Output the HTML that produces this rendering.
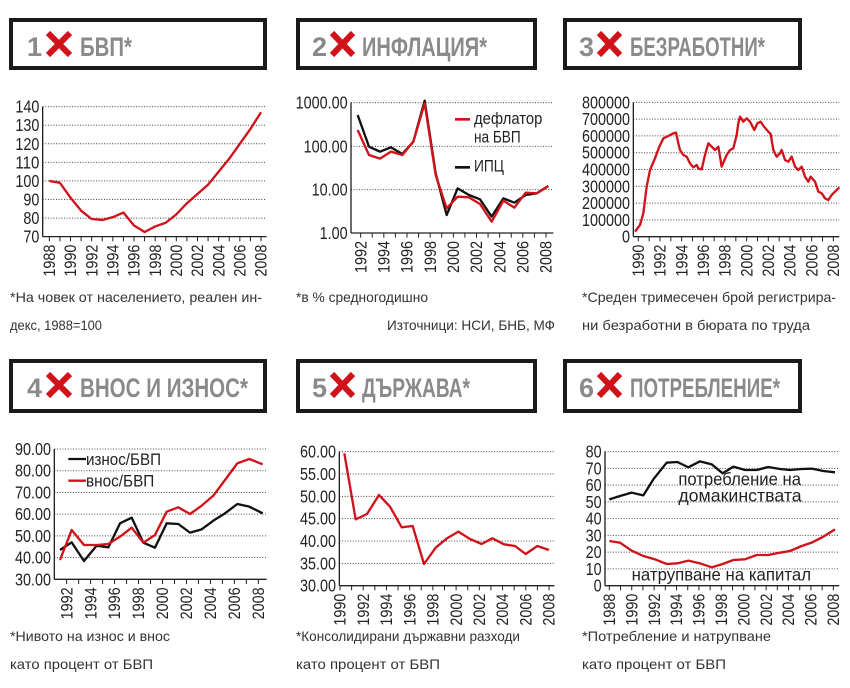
<!DOCTYPE html>
<html><head><meta charset="utf-8">
<style>
html,body{margin:0;padding:0;background:#fff;}
svg{display:block;}
text{font-family:"Liberation Sans","DejaVu Sans",sans-serif;}
</style></head>
<body>
<svg id="s" width="850" height="688" viewBox="0 0 850 688" xmlns="http://www.w3.org/2000/svg">
<!-- Title boxes -->
<g fill="#fff" stroke="#1a1a1a" stroke-width="4">
<rect x="11" y="20" width="254" height="48"/>
<rect x="298" y="20" width="237" height="48"/>
<rect x="565" y="20" width="235" height="48"/>
<rect x="11" y="361" width="254" height="50"/>
<rect x="298" y="361" width="237" height="50"/>
<rect x="565" y="361" width="235" height="50"/>
</g>
<g fill="#8a8a8a" font-weight="bold" font-size="27">
<text x="27" y="56">1</text><text x="80" y="56" textLength="52" lengthAdjust="spacingAndGlyphs">БВП*</text>
<text x="312" y="56">2</text><text x="362" y="56" textLength="125" lengthAdjust="spacingAndGlyphs">ИНФЛАЦИЯ*</text>
<text x="579" y="56">3</text><text x="630" y="56" textLength="135" lengthAdjust="spacingAndGlyphs">БЕЗРАБОТНИ*</text>
<text x="27" y="397">4</text><text x="80" y="397" textLength="168" lengthAdjust="spacingAndGlyphs">ВНОС И ИЗНОС*</text>
<text x="312" y="397">5</text><text x="362" y="397" textLength="108" lengthAdjust="spacingAndGlyphs">ДЪРЖАВА*</text>
<text x="579" y="397">6</text><text x="630" y="397" textLength="150" lengthAdjust="spacingAndGlyphs">ПОТРЕБЛЕНИЕ*</text>
</g>
<g stroke="#d0121b" stroke-width="6" stroke-linecap="butt">
<path d="M48 33 L70 55 M70 33 L48 55"/>
<path d="M332 33 L353 55 M353 33 L332 55"/>
<path d="M599 33 L620 55 M620 33 L599 55"/>
<path d="M48 374 L70 396 M70 374 L48 396"/>
<path d="M332 374 L353 396 M353 374 L332 396"/>
<path d="M599 374 L620 396 M620 374 L599 396"/>
</g>
<!-- footnotes -->
<g fill="#333" font-size="14">
<text x="10" y="302" textLength="252" lengthAdjust="spacingAndGlyphs">*На човек от населението,  реален ин-</text>
<text x="10" y="330" textLength="92" lengthAdjust="spacingAndGlyphs">декс, 1988=100</text>
<text x="296" y="302" textLength="132" lengthAdjust="spacingAndGlyphs">*в % средногодишно</text>
<text x="387" y="330" textLength="168" lengthAdjust="spacingAndGlyphs">Източници: НСИ, БНБ, МФ</text>
<text x="582" y="302" textLength="254" lengthAdjust="spacingAndGlyphs">*Среден тримесечен брой регистрира-</text>
<text x="582" y="330" textLength="228" lengthAdjust="spacingAndGlyphs">ни безработни в бюрата по труда</text>
<text x="10" y="641" textLength="160" lengthAdjust="spacingAndGlyphs">*Нивото на износ и внос</text>
<text x="10" y="669" textLength="143" lengthAdjust="spacingAndGlyphs">като процент от БВП</text>
<text x="296" y="641" textLength="224" lengthAdjust="spacingAndGlyphs">*Консолидирани държавни разходи</text>
<text x="296" y="669" textLength="144" lengthAdjust="spacingAndGlyphs">като процент от БВП</text>
<text x="582" y="641" textLength="189" lengthAdjust="spacingAndGlyphs">*Потребление и натрупване</text>
<text x="582" y="669" textLength="144" lengthAdjust="spacingAndGlyphs">като процент от БВП</text>
</g>
<g id="charts"></g>
</svg>
<script>
(function(){
var NS="http://www.w3.org/2000/svg";
var root=document.getElementById("charts");
function el(p,n,a,t){var e=document.createElementNS(NS,n);for(var k in a)e.setAttribute(k,a[k]);if(t!=null)e.textContent=t;p.appendChild(e);return e;}
function panel(o){
 var g=el(root,"g",{transform:"translate("+o.ox+","+o.oy+") scale(0.3333333)"});
 var bottom=o.ticks[o.ticks.length-1].y, top=o.ticks[0].y;
 o.ticks.forEach(function(t,i){
  if(i<o.ticks.length-1) el(g,"line",{x1:o.ax,x2:o.right,y1:t.y,y2:t.y,stroke:"#444","stroke-width":3,"stroke-dasharray":"3,5"});
  var n=t.l.length;
  el(g,"text",{x:o.ax-10,y:t.y+18,"text-anchor":"end","font-size":52,fill:"#222",textLength:n*24-(t.l.indexOf(".")>=0?12:0),lengthAdjust:"spacingAndGlyphs"},t.l);
 });
 el(g,"line",{x1:o.ax,x2:o.ax,y1:top,y2:bottom,stroke:"#222","stroke-width":4});
 el(g,"line",{x1:o.ax,x2:o.right,y1:bottom,y2:bottom,stroke:"#222","stroke-width":4});
 var ny=(o.y1-o.y0);
 for(var y=o.y0;y<=o.y1;y++){
  var x=o.x0+(o.x1-o.x0)*(y-o.y0)/ny;
  el(g,"line",{x1:x,x2:x,y1:bottom,y2:bottom+14,stroke:"#222","stroke-width":3});
  if((y-o.y0)%2==0){
   el(g,"text",{transform:"translate("+(x+17)+","+(bottom+24)+") rotate(-90)","text-anchor":"end","font-size":50,fill:"#222",textLength:96,lengthAdjust:"spacingAndGlyphs"},String(y));
  }
 }
 (o.series||[]).forEach(function(s){
  el(g,"polyline",{points:s.p,fill:"none",stroke:s.c,"stroke-width":7,"stroke-linejoin":"round"});
 });
 return g;
}
function lin(vals,step,y0,dy){return vals.map(function(v,i){return {l:v,y:y0+i*dy};});}
// Panel 1
var p1=[100,99,91,84,79.5,79,80.5,83,76,72.5,75.5,77.5,82,88,93,98,105,112,120,128,137];
panel({ox:0,oy:0,ax:128,right:800,x0:148,x1:783,y0:1988,y1:2008,
 ticks:lin(["140","130","120","110","100","90","80","70"],0,320,55.7),
 series:[{c:"#d0121b",p:p1.map(function(v,i){return (148+31.75*i)+","+(320+(140-v)*5.571)}).join(" ")}]});
// Panel 2
var g2=panel({ox:290,oy:80,ax:183,right:790,x0:212,x1:768,y0:1992,y1:2008,
 ticks:[{l:"1000.00",y:68},{l:"100.00",y:199},{l:"10.00",y:329},{l:"1.00",y:459}],
 series:[
 {c:"#111",p:"203,105 237,200 270,215 303,202 337,222 370,185 404,62 437,280 470,405 503,325 537,345 570,358 605,410 640,355 673,368 707,345 740,340 775,318"},
 {c:"#d0121b",p:"203,150 237,225 270,236 303,215 337,225 370,185 404,70 437,285 470,385 503,350 537,352 570,372 605,425 640,362 673,383 707,338 740,340 775,318"}]});
el(g2,"line",{x1:495,x2:540,y1:118,y2:118,stroke:"#d0121b","stroke-width":8});
el(g2,"text",{x:552,y:132,"font-size":50,fill:"#222",textLength:205,lengthAdjust:"spacingAndGlyphs"},"дефлатор");
el(g2,"text",{x:552,y:187,"font-size":50,fill:"#222",textLength:140,lengthAdjust:"spacingAndGlyphs"},"на БВП");
el(g2,"line",{x1:495,x2:540,y1:262,y2:262,stroke:"#111","stroke-width":8});
el(g2,"text",{x:552,y:275,"font-size":50,fill:"#222",textLength:90,lengthAdjust:"spacingAndGlyphs"},"ИПЦ");
// Panel 3
panel({ox:570,oy:80,ax:190,right:808,x0:205,x1:790,y0:1990,y1:2008,
 ticks:lin(["800000","700000","600000","500000","400000","300000","200000","100000","0"],0,67,50.375),
 series:[{c:"#d0121b",p:"195,455 210,435 220,400 230,320 240,270 255,235 268,200 280,175 295,168 310,160 318,158 325,190 330,210 340,225 350,230 360,250 370,262 380,255 385,265 395,268 405,225 415,190 425,200 435,210 445,200 455,260 470,225 480,210 490,205 500,165 505,130 510,110 520,125 530,115 540,125 553,150 562,130 572,125 582,140 595,155 602,162 610,210 620,230 630,220 635,210 645,240 655,245 665,230 675,260 685,270 695,260 705,290 715,305 722,290 735,305 745,335 755,340 765,355 775,360 785,345 795,335 808,322"}]});
// Panel 4
var g4=panel({ox:0,oy:350,ax:163,right:800,x0:200,x1:775,y0:1992,y1:2008,
 ticks:lin(["90.00","80.00","70.00","60.00","50.00","40.00","30.00"],0,297,65.17),
 series:[
 {c:"#111",p:"180,600 215,577 252,633 290,587 325,592 360,520 395,503 430,578 465,593 500,520 535,522 570,548 605,538 640,512 675,490 712,462 748,470 788,490"},
 {c:"#d0121b",p:"180,630 215,540 252,585 290,585 325,582 360,560 395,533 430,578 465,555 500,485 535,472 570,492 605,467 640,437 675,390 712,340 748,327 788,343"}]});
el(g4,"line",{x1:205,x2:258,y1:327,y2:327,stroke:"#111","stroke-width":7});
el(g4,"text",{x:258,y:345,"font-size":50,fill:"#222",textLength:225,lengthAdjust:"spacingAndGlyphs"},"износ/БВП");
el(g4,"line",{x1:205,x2:258,y1:392,y2:392,stroke:"#d0121b","stroke-width":7});
el(g4,"text",{x:258,y:410,"font-size":50,fill:"#222",textLength:205,lengthAdjust:"spacingAndGlyphs"},"внос/БВП");
// Panel 5
panel({ox:285,oy:420,ax:163,right:808,x0:165,x1:792,y0:1990,y1:2008,
 ticks:lin(["60.00","55.00","50.00","45.00","40.00","35.00","30.00"],0,95,67),
 series:[{c:"#d0121b",p:"178,100 212,298 246,282 282,225 315,260 350,322 383,318 417,432 452,383 486,355 520,335 555,357 590,372 622,355 657,373 690,378 722,402 757,378 792,390"}]});
// Panel 6
var g6=panel({ox:570,oy:420,ax:105,right:808,x0:118,x1:790,y0:1988,y1:2008,
 ticks:lin(["80","70","60","50","40","30","20","10","0"],0,95,50.25),
 series:[
 {c:"#111",p:"118,238 150,228 185,218 220,226 250,178 290,128 322,126 355,142 390,124 425,133 458,160 490,140 525,150 560,150 595,141 630,147 660,150 695,147 725,146 760,153 795,157"},
 {c:"#d0121b",p:"118,363 150,368 185,392 220,408 255,418 290,432 322,430 355,422 390,430 425,442 458,432 490,420 525,418 560,405 595,405 630,398 660,393 695,378 725,368 760,350 795,328"}]});
el(g6,"text",{x:325,y:195,"font-size":52,fill:"#222",textLength:368,lengthAdjust:"spacingAndGlyphs"},"потребление на");
el(g6,"text",{x:325,y:245,"font-size":52,fill:"#222",textLength:370,lengthAdjust:"spacingAndGlyphs"},"домакинствата");
el(g6,"text",{x:185,y:482,"font-size":52,fill:"#222",textLength:538,lengthAdjust:"spacingAndGlyphs"},"натрупване на капитал");
})();
</script>
</body></html>
